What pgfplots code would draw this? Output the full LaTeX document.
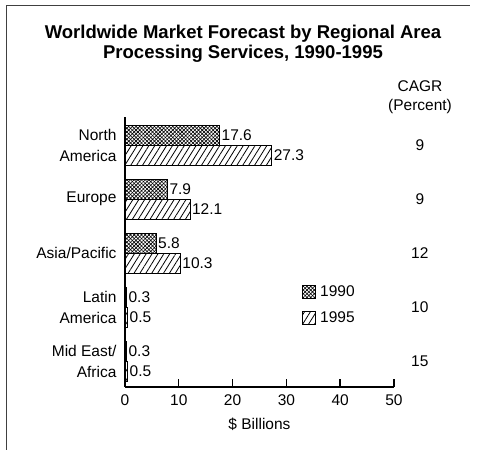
\documentclass[border=0pt]{standalone}
\usepackage{fontspec}
\setmainfont{Liberation Sans}
\usepackage{pgfplots}
\usepackage{pgfplotstable}
\pgfplotsset{compat=1.18}
\usetikzlibrary{patterns.meta}

% Regions run from Mid East/Africa (0) up to North America (4);
% each year's bar sits a little above or below the region's line.
\pgfplotstableread{
pos    val
4.185  17.6
3.185  7.9
2.185  5.8
1.185  0.3
0.185  0.3
}\yrninety
\pgfplotstableread{
pos    val
3.815  27.3
2.815  12.1
1.815  10.3
0.815  0.5
-0.185 0.5
}\yrninetyfive

\tikzset{
  hatchA/.style={pattern={Lines[angle=45,distance=2.6pt,line width=0.65pt]},
                 postaction={pattern={Lines[angle=-45,distance=2.6pt,line width=0.65pt]}}},
  hatchB/.style={pattern={Lines[angle=58,distance=5pt,line width=0.8pt]}},
}

\begin{document}
\begin{tikzpicture}
\useasboundingbox (0pt,0pt) rectangle (480pt,450pt);
\draw[line width=1pt, black!75] (6pt,0pt) -- (6pt,444pt) -- (470pt,444pt);

\node[font=\bfseries\fontsize{18.5}{20.5}\selectfont, align=center]
  at (243pt,406pt) {Worldwide Market Forecast by Regional Area\\Processing Services, 1990-1995};
\node[font=\fontsize{15.5}{19}\selectfont, align=center]
  at (420pt,353pt) {CAGR\\(Percent)};

\begin{axis}[
  at={(125pt,63pt)}, anchor=south west,
  scale only axis, width=269pt, height=270pt,
  xbar, bar width=20pt, bar shift=0pt,
  xmin=0, xmax=50, ymin=-0.48, ymax=4.52,
  axis x line=bottom, axis y line=left,
  axis line style={line width=1.4pt, -},
  xtick={0,10,...,50},
  tick align=inside, major tick length=8pt,
  x tick style={line width=1.4pt, black},
  ytick={0,1,2,3,4},
  yticklabels={Mid East/\\Africa, Latin\\America, Asia/Pacific, Europe, North\\America},
  y tick style={draw=none},
  yticklabel style={align=right, xshift=-5pt, font=\fontsize{15.5}{21}\selectfont},
  xticklabel style={yshift=-4pt, font=\fontsize{15.5}{18}\selectfont},
  /pgf/number format/assume math mode=true,
  xlabel={\$ Billions},
  xlabel style={yshift=-6pt, font=\fontsize{15.5}{18}\selectfont},
  nodes near coords={\pgfmathprintnumber[fixed,precision=1,fixed zerofill]{\pgfplotspointmeta}},
  nodes near coords style={font=\fontsize{15.5}{18}\selectfont, anchor=west, inner sep=1.5pt},
  point meta=x,
  clip=false,
  legend image code/.code={\draw[#1, line width=1pt] (0pt,-6.5pt) rectangle (13pt,6.5pt);
                           \path[draw=none, fill=none] (15pt,0pt);},
  legend style={at={(axis cs:32.9,1.04)}, anchor=west, draw=none, fill=none,
                font=\fontsize{15.5}{18}\selectfont, row sep=10pt, inner sep=0pt},
  legend cell align=left,
]
\addplot[draw=black, line width=1pt, hatchA] table[x=val, y=pos] {\yrninety};
\addplot[draw=black, line width=1pt, hatchB] table[x=val, y=pos] {\yrninetyfive};
\legend{1990, 1995}

% compound annual growth rates, one per region
\node[font=\fontsize{15.5}{18}\selectfont] at (axis cs:54.8,4) {9};
\node[font=\fontsize{15.5}{18}\selectfont] at (axis cs:54.8,3) {9};
\node[font=\fontsize{15.5}{18}\selectfont] at (axis cs:54.8,2) {12};
\node[font=\fontsize{15.5}{18}\selectfont] at (axis cs:54.8,1) {10};
\node[font=\fontsize{15.5}{18}\selectfont] at (axis cs:54.8,0) {15};
\end{axis}
\end{tikzpicture}
\end{document}
